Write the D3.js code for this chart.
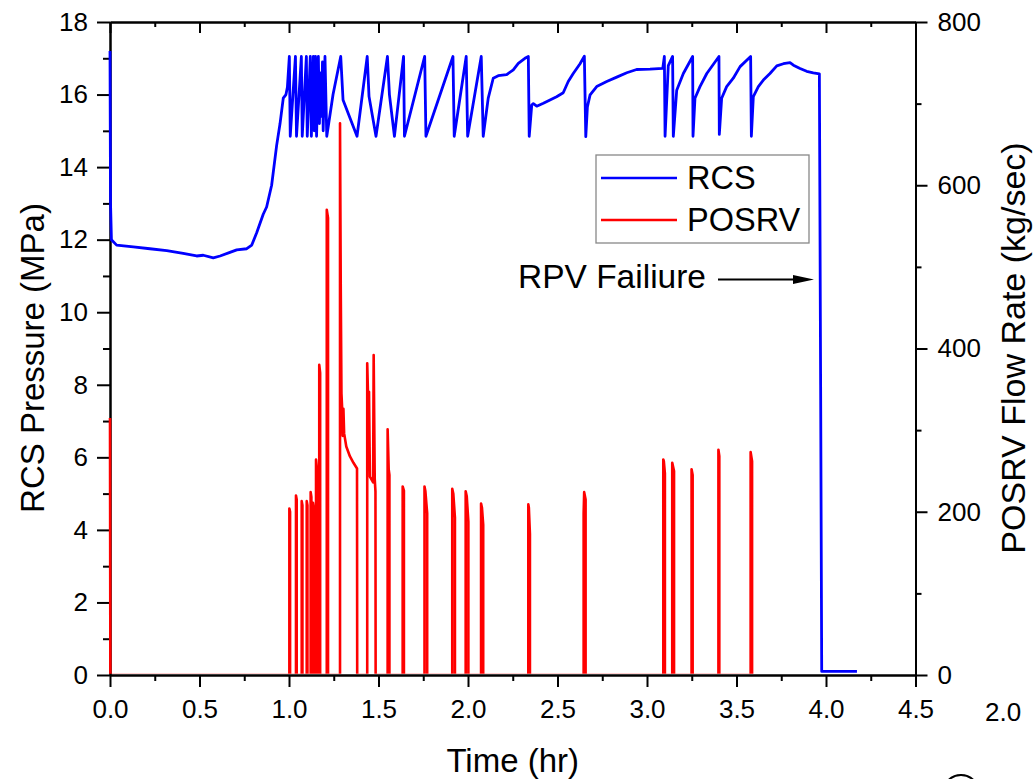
<!DOCTYPE html>
<html><head><meta charset="utf-8">
<script src="https://cdn.jsdelivr.net/npm/d3@7"></script>
<style>
body{margin:0;background:#fff}
svg{display:block}
text{font-family:"Liberation Sans",Arial,Helvetica,sans-serif;fill:#000}
</style>
</head><body>
<svg id="chart" width="1033" height="779"></svg>
<script>
// ---------------- data ----------------
const rcsTime = [0,0.003,0.008,0.037,0.130,0.223,0.317,0.409,0.484,0.521,0.577,0.615,0.670,0.708,0.764,0.792,0.820,0.856,0.875,0.903,0.931,0.950,0.968,0.983,0.991,
  1.002,1.007,1.036,1.042,1.069,1.074,1.097,1.102,1.119,1.125,1.136,1.141,1.148,1.154,1.164,1.170,1.176,1.182,1.187,1.191,1.201,1.211,1.246,
  1.289,1.302,1.380,1.437,1.447,1.486,1.550,1.561,1.589,1.640,1.645,1.758,1.765,1.916,1.923,1.990,1.998,2.074,2.085,
  2.113,2.141,2.169,2.216,2.253,2.281,2.318,2.337,2.342,2.356,2.365,2.384,2.421,2.458,2.495,2.532,2.560,2.588,2.626,2.650,2.658,
  2.667,2.682,2.719,2.775,2.831,2.887,2.942,3.017,3.088,3.097,3.101,3.119,3.143,3.147,3.166,3.203,3.255,3.257,3.268,3.296,3.334,
  3.402,3.404,3.417,3.445,3.482,3.520,3.579,3.583,3.594,3.622,3.650,3.687,3.725,3.762,3.799,3.818,3.855,3.892,3.929,3.963,3.970,3.976,4.173];
const rcsPressure = [17.2,13.0,12.0,11.85,11.8,11.75,11.7,11.62,11.55,11.57,11.5,11.55,11.65,11.72,11.75,11.85,12.2,12.7,12.9,13.5,14.6,15.2,15.9,16.0,16.2,
  17.05,14.85,17.05,14.85,17.05,14.85,17.05,14.85,17.05,14.85,17.05,15.0,17.05,14.85,17.05,15.2,16.6,15.4,16.9,15.0,17.05,14.85,16.0,
  17.05,15.85,14.85,17.05,15.95,14.85,17.05,16.0,14.85,17.05,14.85,17.05,14.85,17.05,14.85,17.05,14.85,17.05,14.85,
  15.9,16.45,16.52,16.55,16.68,16.86,17.0,17.05,14.85,15.71,15.75,15.68,15.76,15.85,15.94,16.05,16.36,16.58,16.85,17.06,14.84,
  15.66,15.99,16.22,16.36,16.48,16.6,16.69,16.7,16.72,17.05,14.85,16.8,17.05,14.85,16.12,16.58,17.05,14.85,15.9,16.22,16.58,
  17.05,14.9,15.9,16.22,16.45,16.77,17.05,14.85,15.94,16.22,16.4,16.58,16.79,16.85,16.88,16.81,16.72,16.64,16.6,16.57,8.0,0.1,0.1];

const posrvTime = [0,0.002,
  1.002,1.002,1.006,1.006, 1.039,1.039,1.043,1.043, 1.071,1.071,1.075,1.075, 1.099,1.099,1.103,1.103,
  1.121,1.121,1.125,1.125, 1.134,1.134,1.138,1.138, 1.151,1.151,1.155,1.155, 1.169,1.169,1.174,1.174,
  1.211,1.211,1.218,1.218,
  1.285,1.285,1.289,1.293,1.297,1.300,1.304,1.308,1.320,1.340,1.360,1.380,1.381,
  1.437,1.437,1.441,1.444,1.447,1.452,1.470,1.473,1.479,1.483,1.484,
  1.551,1.551,1.557,1.561,1.561, 1.635,1.635,1.642,1.642,
  1.757,1.757,1.762,1.772,1.772, 1.912,1.912,1.918,1.927,1.927, 1.987,1.987,1.993,2.002,2.002,
  2.073,2.073,2.078,2.085,2.085, 2.337,2.337,2.340,2.346,2.346, 2.646,2.646,2.649,2.657,2.657,
  3.091,3.091,3.094,3.100,3.100, 3.141,3.141,3.151,3.151, 3.249,3.249,3.255,3.255,
  3.399,3.399,3.404,3.404, 3.579,3.579,3.587,3.587];
const posrvFlow = [315,0,
  0,204,200,0, 0,220,215,0, 0,213,208,0, 0,213,208,0,
  0,224,218,0, 0,211,205,0, 0,264,255,0, 0,380,370,0,
  0,570,560,0,
  0,676,480,345,326,293,326,296,280,268,260,253,0,
  0,382,347,290,347,243,236,392,240,225,0,
  0,301,252,245,0, 0,231,226,0,
  0,231,225,198,0, 0,228,222,193,0, 0,225,219,188,0,
  0,210,205,184,0, 0,209,205,173,0, 0,198,224,215,0,
  0,264,262,247,0, 0,260,250,0, 0,252,245,0,
  0,276,268,0, 0,273,262,0];

const timeTicks = [0,0.5,1.0,1.5,2.0,2.5,3.0,3.5,4.0,4.5];
const timeMinorTicks = [0.25,0.75,1.25,1.75,2.25,2.75,3.25,3.75,4.25];
const pressureTicks = [0,2,4,6,8,10,12,14,16,18];
const pressureMinorTicks = [1,3,5,7,9,11,13,15,17];
const flowTicks = [0,200,400,600,800];
const flowMinorTicks = [100,300,500,700];
const seriesNames = ["RCS","POSRV"];
const seriesColors = ["#0000FF","#FF0000"];
const annotationText = "RPV Failiure";

// ---------------- layout ----------------
const L = 110, R = 915.5, T = 22, B = 675;
const svg = d3.select("#chart");
const x = d3.scaleLinear().domain([0,4.5]).range([L,R]);
const yP = d3.scaleLinear().domain([0,18]).range([B,T]);
const yF = d3.scaleLinear().domain([0,800]).range([B,T]);

svg.append("defs").append("clipPath").attr("id","clip")
  .append("rect").attr("x",L-2).attr("y",T).attr("width",R-L+2).attr("height",B-T-1.3);

function styleAxis(g){
  g.selectAll("path.domain").attr("stroke","#000").attr("stroke-width",2);
  g.selectAll(".tick line").attr("stroke","#000").attr("stroke-width",2);
  g.selectAll("text").style("font-size","26px").style("font-family",'"Liberation Sans",Arial,sans-serif').attr("fill","#000");
}

const gB = svg.append("g").attr("transform",`translate(0,${B})`)
  .call(d3.axisBottom(x).tickValues(timeTicks).tickFormat(d3.format(".1f")).tickSize(12).tickSizeOuter(0).tickPadding(13));
styleAxis(gB);
const gBm = svg.append("g").attr("transform",`translate(0,${B})`)
  .call(d3.axisBottom(x).tickValues(timeMinorTicks).tickFormat("").tickSize(6).tickSizeOuter(0));
styleAxis(gBm);
const gT = svg.append("g").attr("transform",`translate(0,${T})`)
  .call(d3.axisTop(x).tickValues(timeTicks).tickFormat("").tickSize(-11).tickSizeOuter(0));
styleAxis(gT);
const gTm = svg.append("g").attr("transform",`translate(0,${T})`)
  .call(d3.axisTop(x).tickValues(timeMinorTicks).tickFormat("").tickSize(-5).tickSizeOuter(0));
styleAxis(gTm);
const gL = svg.append("g").attr("transform",`translate(${L},0)`)
  .call(d3.axisLeft(yP).tickValues(pressureTicks).tickFormat(d3.format("d")).tickSize(13).tickSizeOuter(0).tickPadding(9));
styleAxis(gL);
const gLm = svg.append("g").attr("transform",`translate(${L},0)`)
  .call(d3.axisLeft(yP).tickValues(pressureMinorTicks).tickFormat("").tickSize(7).tickSizeOuter(0));
styleAxis(gLm);
const gR = svg.append("g").attr("transform",`translate(${R},0)`)
  .call(d3.axisRight(yF).tickValues(flowTicks).tickFormat(d3.format("d")).tickSize(12).tickSizeOuter(0).tickPadding(10));
styleAxis(gR);
const gRm = svg.append("g").attr("transform",`translate(${R},0)`)
  .call(d3.axisRight(yF).tickValues(flowMinorTicks).tickFormat("").tickSize(6).tickSizeOuter(0));
styleAxis(gRm);

svg.append("text").attr("x",(L+R)/2).attr("y",772).attr("text-anchor","middle")
  .style("font-size","33px").text("Time (hr)");
svg.append("text").attr("transform","translate(44,358) rotate(-90)").attr("text-anchor","middle")
  .style("font-size","33px").text("RCS Pressure (MPa)");
svg.append("text").attr("transform","translate(1025,348) rotate(-90)").attr("text-anchor","middle")
  .style("font-size","34px").text("POSRV Flow Rate (kg/sec)");

const dataG = svg.append("g").attr("clip-path","url(#clip)");
const rcsData = rcsTime.map((t,i)=>[t,rcsPressure[i]]);
const posData = posrvTime.map((t,i)=>[t,posrvFlow[i]]);
dataG.append("path").datum(rcsData)
  .attr("d", d3.line().x(d=>x(d[0])).y(d=>yP(d[1])))
  .attr("fill","none").attr("stroke",seriesColors[0]).attr("stroke-width",2.8).attr("stroke-linejoin","round");
dataG.append("path").datum(posData)
  .attr("d", d3.line().x(d=>x(d[0])).y(d=>yF(d[1])))
  .attr("fill","none").attr("stroke",seriesColors[1]).attr("stroke-width",2.6).attr("stroke-linejoin","round");

const lg = svg.append("g");
lg.append("rect").attr("x",596).attr("y",155).attr("width",213).attr("height",88)
  .attr("fill","#fff").attr("stroke","#888").attr("stroke-width",1.3);
[0,1].forEach(i=>{
  const yy = 178 + i*42;
  lg.append("line").attr("x1",601).attr("x2",677).attr("y1",yy).attr("y2",yy)
    .attr("stroke",seriesColors[i]).attr("stroke-width",2.6);
  lg.append("text").attr("x",687).attr("y",yy+11).style("font-size","32.5px").text(seriesNames[i]);
});

svg.append("text").attr("x",706).attr("y",288).attr("text-anchor","end")
  .style("font-size","33.5px").text(annotationText);
svg.append("line").attr("x1",718).attr("x2",798).attr("y1",279.5).attr("y2",279.5)
  .attr("stroke","#000").attr("stroke-width",2);
svg.append("path").attr("d","M793,275 L814,279.5 L793,284 Z").attr("fill","#000");

svg.append("text").attr("x",985).attr("y",721).style("font-size","26px").text("2.0");
svg.append("circle").attr("cx",961).attr("cy",793).attr("r",18)
  .attr("fill","none").attr("stroke","#000").attr("stroke-width",2);
</script>
</body></html>
